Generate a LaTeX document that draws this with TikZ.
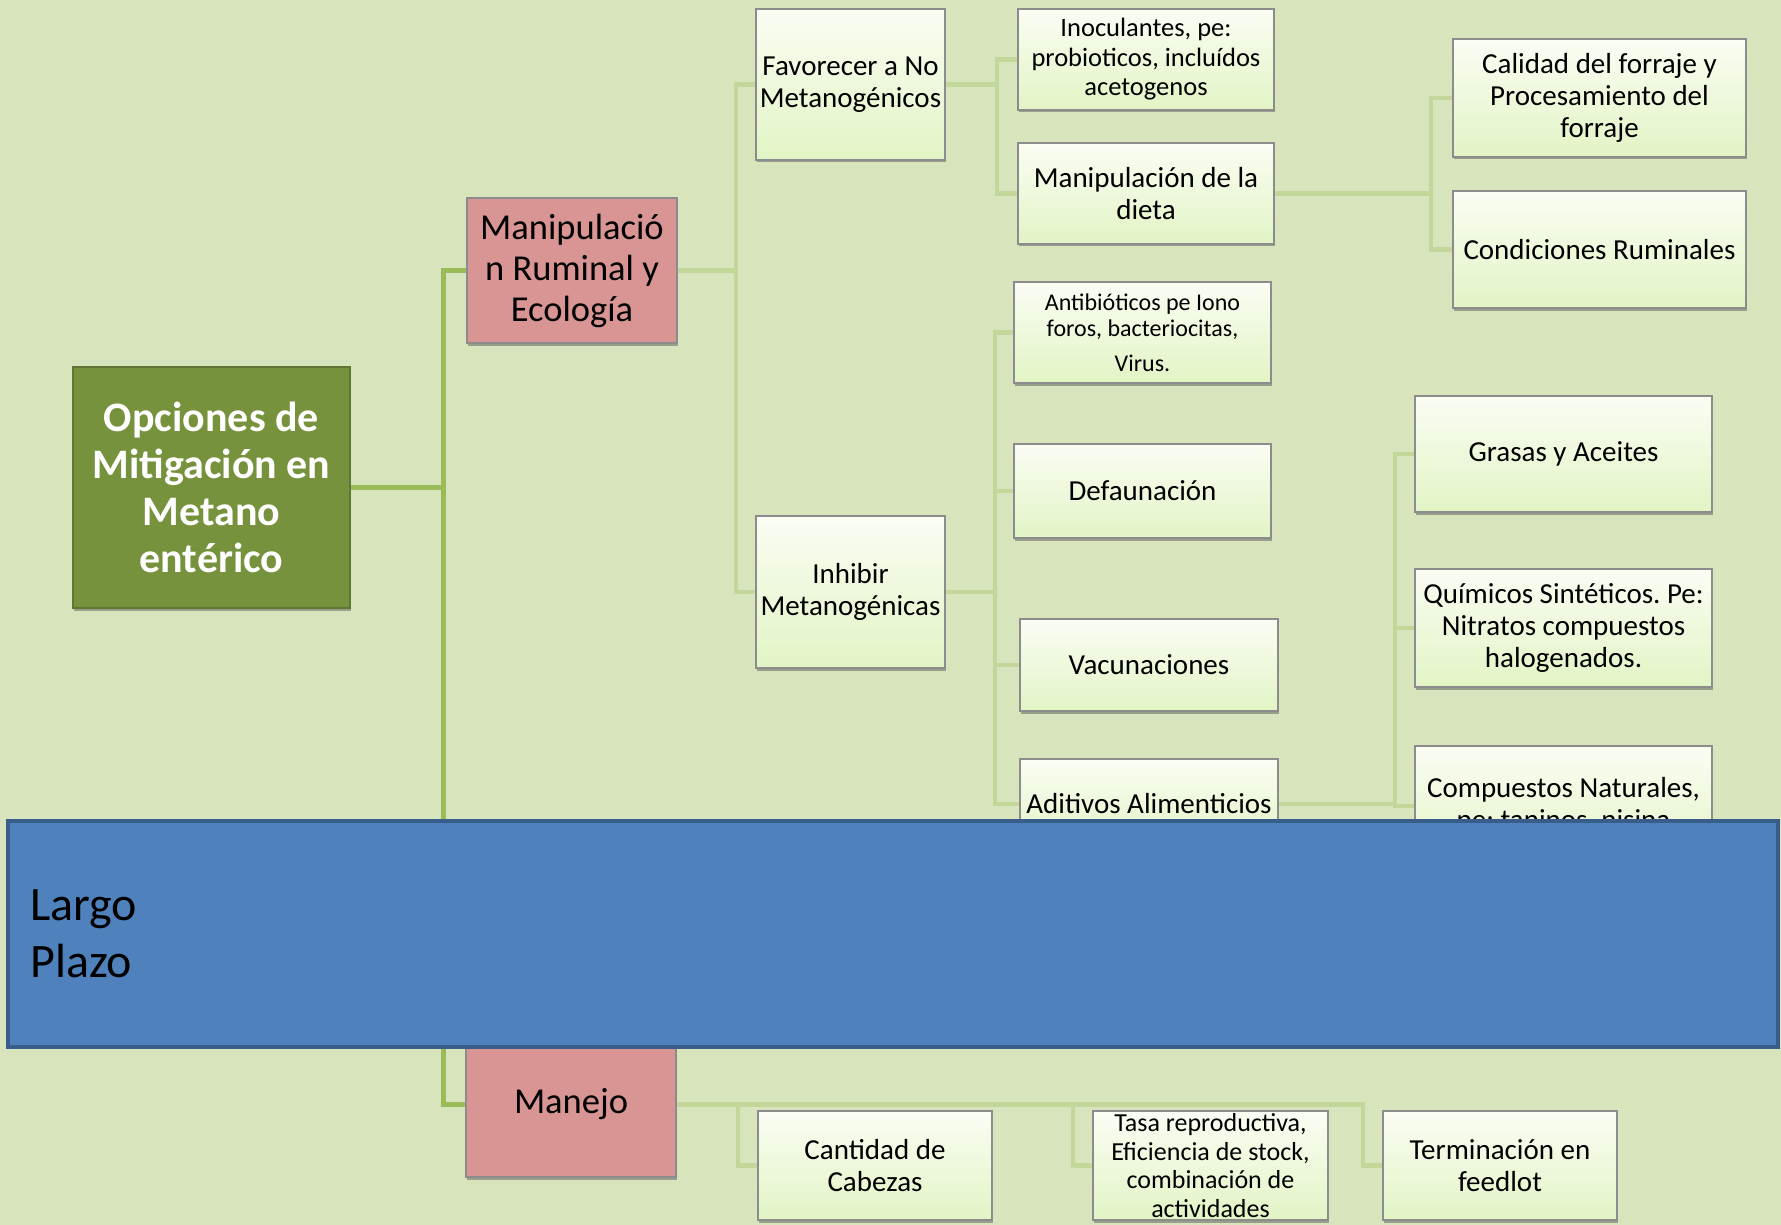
\documentclass[tikz,border=0pt]{standalone}
\usepackage{fontspec}
\setmainfont{Carlito}
\frenchspacing
\usetikzlibrary{shadows}
\definecolor{bg}{RGB}{216,228,188}
\definecolor{rootc}{RGB}{118,146,60}
\definecolor{rootb}{RGB}{96,118,50}
\definecolor{pinkc}{RGB}{217,149,148}
\definecolor{leaftop}{RGB}{250,253,243}
\definecolor{leafbot}{RGB}{226,244,197}
\definecolor{leafb}{RGB}{140,140,140}
\definecolor{lineA}{RGB}{155,187,89}
\definecolor{lineB}{RGB}{196,215,155}
\definecolor{bandc}{RGB}{79,129,189}
\definecolor{bandb}{RGB}{56,93,138}
\newcommand\myfs[2]{\fontsize{#1}{#2}\selectfont}
\begin{document}
\begin{tikzpicture}[x=1pt,y=-1pt,
  shad/.style={drop shadow={shadow xshift=0.5pt,shadow yshift=-2.5pt,fill=black!60,opacity=0.55}},
  leaf/.style={rectangle,draw=leafb,line width=1.2pt,top color=leaftop,bottom color=leafbot,
    inner sep=1pt,align=center,shad,font=\myfs{29}{32}},
  rootbox/.style={rectangle,draw=rootb,line width=1.2pt,fill=rootc,text=white,inner sep=1pt,
    align=center,shad,font=\myfs{42}{47}\bfseries},
  pinkbox/.style={rectangle,draw=leafb,line width=1.2pt,fill=pinkc,inner sep=1pt,
    align=center,shad,font=\myfs{36.5}{41}},
  la/.style={draw=lineA,line width=5pt},
  lb/.style={draw=lineB,line width=4.5pt}]
\fill[bg] (0,0) rectangle (1781,1225);
\useasboundingbox (0,0) rectangle (1781,1225);

% branch x positions
\coordinate (t0) at (443,0);
\coordinate (t1) at (736,0);
\coordinate (t2) at (997,0);
\coordinate (t3) at (1431,0);
\coordinate (t4) at (995,0);
\coordinate (t5) at (1395,0);
\coordinate (m1) at (738,0);
\coordinate (m2) at (1073,0);
\coordinate (m3) at (1363,0);

\node[rootbox,minimum width=277pt,minimum height=241pt] (root) at (211.5,487.5)
  {Opciones de\\Mitigación en\\Metano\\entérico};
\node[pinkbox,minimum width=210pt,minimum height=145pt] (manip) at (572,270.5)
  {Manipulació\\n Ruminal y\\Ecología};
\node[pinkbox,minimum width=210pt,minimum height=145pt] (manejo) at (571,1104.5) {Manejo};

\node[leaf,minimum width=189pt,minimum height=151pt] (fav) at (850.5,84.5) {Favorecer a No\\Metanogénicos};
\node[leaf,minimum width=189pt,minimum height=152pt] (inh) at (850.5,592) {Inhibir\\Metanogénicas};
\node[leaf,minimum width=256pt,minimum height=101pt,font=\myfs{26.5}{29.5}] (ino) at (1146,59.5)
  {Inoculantes, pe:\\probioticos, incluídos\\acetogenos};
\node[leaf,minimum width=256pt,minimum height=101pt] (die) at (1146,193.5) {Manipulación de la\\dieta};
\node[leaf,minimum width=293pt,minimum height=118pt] (cal) at (1599.5,98)
  {Calidad del forraje y\\Procesamiento del\\forraje};
\node[leaf,minimum width=293pt,minimum height=117pt] (con) at (1599.5,249.5) {Condiciones Ruminales};
\node[leaf,minimum width=257pt,minimum height=101pt,font=\myfs{24}{26}] (ant) at (1142.5,332.5)
  {Antibióticos pe Iono\\foros, bacteriocitas,\\[9pt]Virus.};
\node[leaf,minimum width=257pt,minimum height=94pt] (def) at (1142.5,491) {Defaunación};
\node[leaf,minimum width=258pt,minimum height=92pt] (vac) at (1149,665) {Vacunaciones};
\node[leaf,minimum width=258pt,minimum height=90pt] (adi) at (1149,804) {Aditivos Alimenticios};
\node[leaf,minimum width=297pt,minimum height=116pt] (gra) at (1563.5,454) {Grasas y Aceites};
\node[leaf,minimum width=297pt,minimum height=118pt] (qui) at (1563.5,628)
  {Químicos Sintéticos. Pe:\\Nitratos compuestos\\halogenados.};
\node[leaf,minimum width=297pt,minimum height=120pt] (com) at (1563.5,806)
  {Compuestos Naturales,\\pe: taninos, nisina};
\node[leaf,minimum width=234pt,minimum height=109pt] (cant) at (875,1165.5) {Cantidad de\\Cabezas};
\node[leaf,minimum width=235pt,minimum height=109pt,font=\myfs{26}{28.5}] (tasa) at (1210.5,1165.5)
  {Tasa reproductiva,\\Eficiencia de stock,\\combinación de\\actividades};
\node[leaf,minimum width=234pt,minimum height=109pt] (ter) at (1500,1165.5) {Terminación en\\feedlot};

% level 1
\draw[la] (root.east) -- (root.east -| t0) |- (manip.west);
\draw[la] (root.east -| t0) |- (manejo.west);
% manipulacion
\draw[lb] (manip.east) -- (manip.east -| t1) |- (fav.west);
\draw[lb] (manip.east -| t1) |- (inh.west);
% favorecer
\draw[lb] (fav.east) -- (fav.east -| t2) |- (ino.west);
\draw[lb] (fav.east -| t2) |- (die.west);
% dieta
\draw[lb] (die.east) -- (die.east -| t3) |- (cal.west);
\draw[lb] (die.east -| t3) |- (con.west);
% inhibir
\draw[lb] (inh.east) -- (inh.east -| t4) |- (ant.west);
\draw[lb] (inh.east -| t4) |- (def.west);
\draw[lb] (inh.east -| t4) |- (vac.west);
\draw[lb] (inh.east -| t4) |- (adi.west);
% aditivos
\draw[lb] (adi.east) -- (adi.east -| t5) |- (gra.west);
\draw[lb] (adi.east -| t5) |- (qui.west);
\draw[lb] (adi.east -| t5) |- (com.west);
% manejo
\draw[lb] (manejo.east) -- (manejo.east -| m3) |- (ter.west);
\draw[lb] (manejo.east -| m1) |- (cant.west);
\draw[lb] (manejo.east -| m2) |- (tasa.west);

% band
\node[rectangle,draw=bandb,line width=4pt,fill=bandc,minimum width=1770pt,minimum height=226pt,inner sep=0pt]
  (band) at (893,933.5) {};
\node[anchor=west,inner sep=0pt,align=left,font=\myfs{48}{57}] (lp) at (30,933.5) {Largo\\Plazo};
\end{tikzpicture}
\end{document}
